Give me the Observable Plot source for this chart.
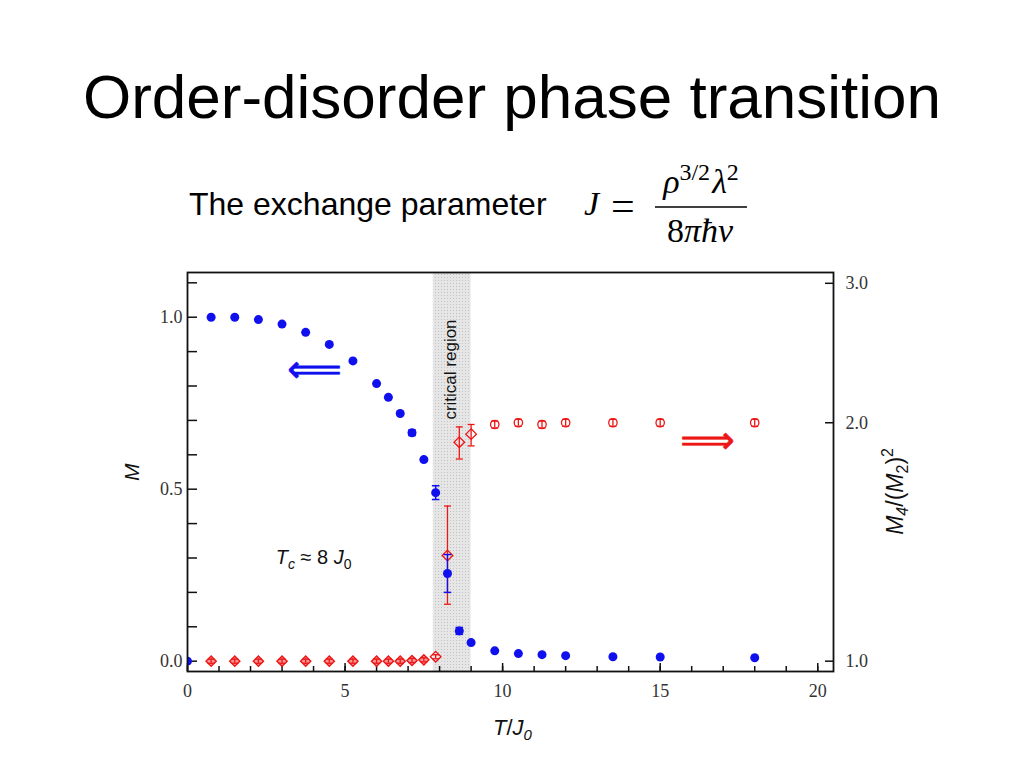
<!DOCTYPE html>
<html>
<head>
<meta charset="utf-8">
<script src="https://cdn.jsdelivr.net/npm/d3@7"></script>
<script src="https://cdn.jsdelivr.net/npm/@observablehq/plot@0.6"></script>
<style>
  body { margin: 0; background: #fff; }
  #page { position: relative; width: 1024px; height: 768px; overflow: hidden; font-family: "Liberation Sans", Arial, sans-serif; color: #000; }
  #title { position: absolute; left: 0; top: 66px; width: 1024px; text-align: center; font-size: 62px; line-height: 62px; }
  #sub { position: absolute; left: 189px; top: 188px; font-size: 32px; line-height: 32px; }
  #formula { position: absolute; left: 0; top: 0; }
  #chart { position: absolute; left: 0; top: 250px; }
</style>
</head>
<body>
<div id="page">
  <div id="title">Order-disorder phase transition</div>
  <div id="sub">The exchange parameter</div>
  <svg id="formula" width="1024" height="260">
    <g font-family="Liberation Serif, DejaVu Serif, serif" font-size="34" fill="#000">
      <text x="584" y="215" font-style="italic">J</text>
      <text x="611" y="220" font-size="42">=</text>
      <line x1="655" x2="747" y1="207" y2="207" stroke="#000" stroke-width="1.3"></line>
      <text x="701" y="193" text-anchor="middle"><tspan font-style="italic">ρ</tspan><tspan font-size="24" dy="-13">3/2</tspan><tspan dy="13" dx="2" font-style="italic">λ</tspan><tspan font-size="24" dy="-13">2</tspan></text>
      <text x="700" y="242" text-anchor="middle">8<tspan font-style="italic">πħv</tspan></text>
    </g>
  </svg>
  <div id="chart"></div>
</div>
<script>
// ---- data ----
const T_M = [0, 0.75, 1.5, 2.25, 3.0, 3.75, 4.5, 5.25, 6.0, 6.375, 6.75, 7.125, 7.5, 7.875, 8.25, 8.625, 9.0, 9.75, 10.5, 11.25, 12.0, 13.5, 15.0, 18.0];
const M_values = [0, 1.0, 1.0, 0.993, 0.980, 0.956, 0.921, 0.873, 0.807, 0.767, 0.720, 0.664, 0.586, 0.490, 0.255, 0.088, 0.054, 0.030, 0.022, 0.019, 0.016, 0.013, 0.012, 0.010];
const M_errors = [0, 0, 0, 0, 0, 0, 0, 0, 0, 0, 0, 0.008, 0.005, 0.020, 0.055, 0.010, 0.004, 0, 0, 0, 0, 0, 0, 0];

const T_R = [0.75, 1.5, 2.25, 3.0, 3.75, 4.5, 5.25, 6.0, 6.375, 6.75, 7.125, 7.5, 7.875, 8.25, 8.625, 9.0, 9.75, 10.5, 11.25, 12.0, 13.5, 15.0, 18.0];
const R_values = [1.000, 1.000, 1.000, 1.000, 1.000, 1.000, 1.000, 1.000, 1.000, 1.000, 1.002, 1.004, 1.013, 1.36, 1.89, 1.935, 1.99, 2.00, 1.99, 2.00, 2.00, 2.00, 2.00];
const R_low  = [0.994, 0.994, 0.994, 0.994, 0.994, 0.994, 0.994, 0.994, 0.994, 0.994, 0.996, 0.998, 1.007, 1.18, 1.80, 1.87, 1.97, 1.98, 1.97, 1.98, 1.98, 1.98, 1.98];
const R_high = [1.006, 1.006, 1.006, 1.006, 1.006, 1.006, 1.006, 1.006, 1.006, 1.006, 1.008, 1.010, 1.019, 1.57, 1.976, 1.99, 2.01, 2.02, 2.01, 2.02, 2.02, 2.02, 2.02];

const xMinorTicks = d3.range(0, 21, 1);
const xMajorTicks = [0, 5, 10, 15, 20];
const leftMinorTicks = d3.range(0, 1.15, 0.1);
const leftLabelTicks = [0, 0.5, 1.0];
const rightTicks = [1.0, 2.0, 3.0];
const criticalRegion = [[7.8, 9.0]];

const criticalLabel = [{T: 8.35, M: 0.848, text: "critical region"}];
const tcLabel = [{T: 4.0, M: 0.30, text: "Tc ≈ 8 J0"}];
const leftArrow = [{T: 4.03, M: 0.848, text: "⟸"}];
const rightArrow = [{T: 16.5, M: 0.642, text: "⟹"}];

// ---- tables ----
const blue = T_M.map((t, i) => ({T: t, M: M_values[i], err: M_errors[i]}));
const blueErr = blue.filter(d => d.err > 0);
const red = T_R.map((t, i) => ({T: t, R: R_values[i], lo: R_low[i], hi: R_high[i]}));

const BLUE = "#1010ee";
const RED = "#ee1515";
const capSymbol = {
  draw(context, size) {
    const w = Math.sqrt(size / Math.PI);
    context.moveTo(-w, 0);
    context.lineTo(w, 0);
  }
};

const patternDefs = () => {
  const ns = "http://www.w3.org/2000/svg";
  const defs = document.createElementNS(ns, "defs");
  defs.innerHTML = '<pattern id="dots" width="3" height="3" patternUnits="userSpaceOnUse"><rect width="3" height="3" fill="#e6e6e6"></rect><rect width="1" height="1" fill="#c2c2c2"></rect></pattern>';
  return defs;
};

const chart = Plot.plot({
  width: 1024,
  height: 518,
  marginLeft: 187,
  marginRight: 191,
  marginTop: 22,
  marginBottom: 97,
  style: {fontFamily: "Liberation Serif, serif", fontSize: "18px", color: "#111", background: "transparent"},
  x: {domain: [0, 20.5]},
  y: {domain: [-0.03, 1.13]},
  marks: [
    patternDefs,
    Plot.rect(criticalRegion, {x1: d => d[0], x2: d => d[1], fill: "url(#dots)"}),
    // ticks (inward)
    Plot.axisX({ticks: xMinorTicks, tickSize: 5, dy: -5, tickFormat: () => "", label: null, strokeWidth: 1.5}),
    Plot.axisX({ticks: xMajorTicks, tickSize: 8, dy: -8, tickFormat: () => "", label: null, strokeWidth: 1.5}),
    Plot.axisX({ticks: xMajorTicks, tickSize: 0, tickPadding: 13, tickFormat: d => String(d), label: null, fontSize: 18, fill: "#333"}),
    Plot.axisY({anchor: "left", ticks: leftMinorTicks, tickSize: 10, dx: 10, tickFormat: () => "", label: null, strokeWidth: 1.5}),
    Plot.axisY({anchor: "left", ticks: leftLabelTicks, tickSize: 0, tickPadding: 5, tickFormat: d => d.toFixed(1), label: null, fontSize: 18, fill: "#333"}),
    Plot.axisY({anchor: "right", ticks: rightTicks.map(Math.log), tickSize: 9, dx: -9, tickFormat: () => "", label: null, strokeWidth: 1.5}),
    Plot.axisY({anchor: "right", ticks: rightTicks.map(Math.log), tickSize: 0, tickPadding: 12, tickFormat: d => Math.exp(d).toFixed(1), label: null, fontSize: 18, fill: "#333"}),
    // red error bars & markers (right axis, log scale mapped)
    Plot.ruleX(red, {x: "T", y1: d => Math.log(d.lo), y2: d => Math.log(d.hi), stroke: RED, strokeWidth: 1.3}),
    Plot.dot(red, {x: "T", y: d => Math.log(d.lo), symbol: capSymbol, r: 3.5, stroke: RED, strokeWidth: 1.3}),
    Plot.dot(red, {x: "T", y: d => Math.log(d.hi), symbol: capSymbol, r: 3.5, stroke: RED, strokeWidth: 1.3}),
    Plot.dot(red.filter(d => d.T < 7.8), {x: "T", y: d => Math.log(d.R), symbol: "diamond2", r: 4.6, stroke: RED, strokeWidth: 1.4, fill: RED, fillOpacity: 0.45}),
    Plot.dot(red.filter(d => d.T >= 7.8 && d.T < 9.5), {x: "T", y: d => Math.log(d.R), symbol: "diamond2", r: 4.8, stroke: RED, strokeWidth: 1.3, fill: "none"}),
    Plot.dot(red.filter(d => d.T >= 9.5), {x: "T", y: d => Math.log(d.R), symbol: "circle", r: 4.2, stroke: RED, strokeWidth: 1.3, fill: "none"}),
    // blue error bars & markers
    Plot.ruleX(blueErr, {x: "T", y1: d => d.M - d.err, y2: d => d.M + d.err, stroke: BLUE, strokeWidth: 1.4}),
    Plot.dot(blueErr, {x: "T", y: d => d.M - d.err, symbol: capSymbol, r: 3.8, stroke: BLUE, strokeWidth: 1.5}),
    Plot.dot(blueErr, {x: "T", y: d => d.M + d.err, symbol: capSymbol, r: 3.8, stroke: BLUE, strokeWidth: 1.5}),
    Plot.dot(blue, {x: "T", y: "M", r: 4.5, fill: BLUE, stroke: "none", clip: true}),
    Plot.frame({stroke: "#111", strokeWidth: 1.8}),
    // annotations
    Plot.text(criticalLabel, {x: "T", y: "M", text: "text", rotate: -90, fontSize: 17, fill: "#111", fontFamily: "Liberation Sans, Arial, sans-serif"}),
    Plot.text(tcLabel, {x: "T", y: "M", text: "text", fontSize: 20, fill: "#111", fontFamily: "Liberation Sans, Arial, sans-serif"}),
    Plot.text(leftArrow, {x: "T", y: "M", text: "text", fontSize: 38, fill: BLUE, stroke: BLUE, strokeWidth: 0.6, fontFamily: "DejaVu Sans, sans-serif"}),
    Plot.text(rightArrow, {x: "T", y: "M", text: "text", fontSize: 38, fill: RED, stroke: RED, strokeWidth: 0.6, fontFamily: "DejaVu Sans, sans-serif"}),
    // axis titles
    Plot.text(["T/J0"], {frameAnchor: "bottom", dx: 2, dy: 63, fontSize: 22, fill: "#111", fontFamily: "Liberation Sans, Arial, sans-serif"}),
    Plot.text(["M"], {frameAnchor: "left", dx: -55, dy: 9, rotate: -90, fontSize: 21, fill: "#111", fontStyle: "italic", fontFamily: "Liberation Sans, Arial, sans-serif"}),
    Plot.text(["M4/(M2)2"], {frameAnchor: "right", dx: 62, dy: -24, rotate: -90, fontSize: 23, fill: "#111", fontFamily: "Liberation Sans, Arial, sans-serif"})
  ]
});

document.getElementById("chart").appendChild(chart);

function rich(plain, html) {
  d3.select(chart).selectAll("text")
    .filter(function () { return this.textContent === plain; })
    .each(function () { this.innerHTML = html; });
}
rich("Tc ≈ 8 J0", '<tspan font-style="italic">T</tspan><tspan font-size="14" dy="5" font-style="italic">c</tspan><tspan dy="-5"> ≈ 8 </tspan><tspan font-style="italic">J</tspan><tspan font-size="14" dy="5">0</tspan>');
rich("T/J0", '<tspan font-style="italic">T</tspan><tspan>/</tspan><tspan font-style="italic">J</tspan><tspan font-size="15" dy="5" font-style="italic">0</tspan>');
rich("M4/(M2)2", '<tspan font-style="italic">M</tspan><tspan font-size="16" dy="5" font-style="italic">4</tspan><tspan dy="-5">/(</tspan><tspan font-style="italic">M</tspan><tspan font-size="16" dy="5">2</tspan><tspan dy="-5">)</tspan><tspan font-size="16" dy="-10">2</tspan>');
</script>
</body>
</html>
